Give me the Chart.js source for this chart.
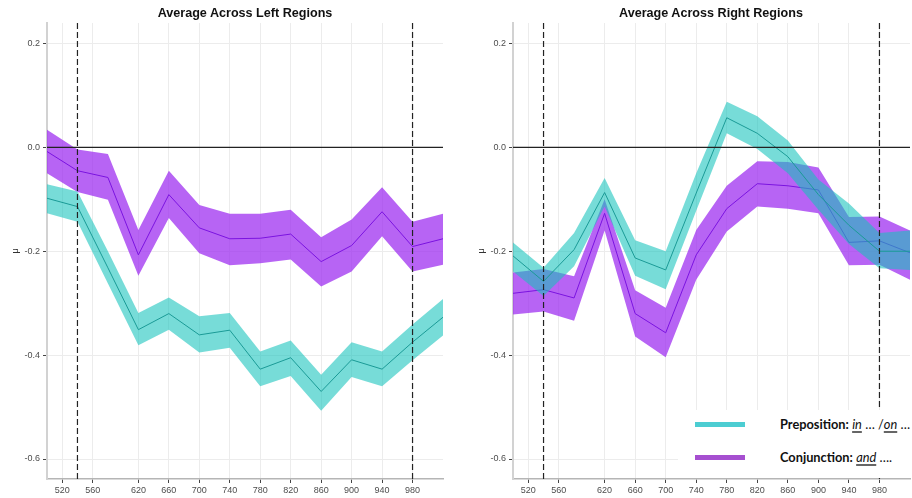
<!DOCTYPE html>
<html>
<head>
<meta charset="utf-8">
<script src="https://cdn.jsdelivr.net/npm/chart.js@4.4.1/dist/chart.umd.min.js"></script>
<style>
  html, body { margin:0; padding:0; background:#fff; }
  body { width:912px; height:498px; position:relative; overflow:hidden; font-family:"Liberation Sans", Arial, sans-serif; }
  .cw { position:absolute; top:0; height:498px; }
  .title { position:absolute; top:6px; font-weight:bold; font-size:12.6px; color:#111; text-align:center; white-space:nowrap; }
  #legend { position:absolute; left:678px; top:410px; width:234px; height:68px; background:#fff; }
  .lgline { position:absolute; left:17px; width:50px; height:5px; }
  .lgtext { position:absolute; left:102px; font-family:Lato, "Open Sans", sans-serif; font-size:12.8px; color:#111; white-space:nowrap; line-height:16px; }
  .lgtext b { font-weight:bold; }
  .lgtext i { font-style:italic; }
  .lgtext u { text-decoration:underline; text-decoration-color:#666; text-decoration-thickness:1.5px; text-underline-offset:2px; }
</style>
</head>
<body>
<div class="cw" style="left:0;width:456px;"><canvas id="leftChart" width="456" height="498"></canvas></div>
<div class="cw" style="left:466px;width:446px;"><canvas id="rightChart" width="446" height="498"></canvas></div>
<div class="title" style="left:95px;width:300px;">Average Across Left Regions</div>
<div class="title" style="left:561px;width:300px;">Average Across Right Regions</div>
<div id="legend">
  <div class="lgline" style="top:12px;background:#4ccdd2;"></div>
  <div class="lgline" style="top:45px;background:#a64fd0;"></div>
  <div class="lgtext" style="top:6px;"><b>Preposition:</b> <i><u>in</u></i> … /<i><u>on</u></i> …</div>
  <div class="lgtext" style="top:39px;"><b>Conjunction:</b> <i><u>and</u></i> ….</div>
</div>
<script>
// ---- data ----
const timePoints = [500, 540, 580, 620, 660, 700, 740, 780, 820, 860, 900, 940, 980, 1020];
const xTickValues = [520, 560, 620, 660, 700, 740, 780, 820, 860, 900, 940, 980];
const yTickValues = [0.2, 0.0, -0.2, -0.4, -0.6];
const markerTimes = [540, 980];
const zeroLevel = 0;

const leftPrepMean  = [-0.098, -0.114, -0.232, -0.351, -0.320, -0.361, -0.352, -0.427, -0.405, -0.470, -0.409, -0.427, -0.375, -0.327];
const leftPrepUpper = [-0.071, -0.085, -0.200, -0.319, -0.289, -0.325, -0.319, -0.393, -0.372, -0.438, -0.375, -0.393, -0.341, -0.292];
const leftPrepLower = [-0.127, -0.143, -0.262, -0.381, -0.351, -0.395, -0.386, -0.460, -0.440, -0.507, -0.442, -0.460, -0.410, -0.362];

const leftConjMean  = [-0.008, -0.045, -0.058, -0.207, -0.091, -0.155, -0.176, -0.175, -0.167, -0.220, -0.189, -0.124, -0.191, -0.176];
const leftConjUpper = [ 0.034, -0.004, -0.013, -0.159, -0.045, -0.111, -0.128, -0.128, -0.120, -0.173, -0.139, -0.077, -0.143, -0.128];
const leftConjLower = [-0.050, -0.086, -0.101, -0.247, -0.136, -0.204, -0.227, -0.223, -0.216, -0.268, -0.239, -0.171, -0.239, -0.226];

const rightPrepMean  = [-0.209, -0.258, -0.197, -0.087, -0.213, -0.236, -0.088, 0.057, 0.027, -0.018, -0.091, -0.150, -0.200, -0.200];
const rightPrepUpper = [-0.183, -0.232, -0.165, -0.059, -0.179, -0.200, -0.050, 0.088, 0.060, 0.013, -0.062, -0.108, -0.165, -0.160];
const rightPrepLower = [-0.239, -0.286, -0.229, -0.114, -0.247, -0.273, -0.122, 0.027, -0.003, -0.050, -0.120, -0.186, -0.233, -0.236];

const rightConjMean  = [-0.281, -0.274, -0.290, -0.127, -0.320, -0.357, -0.207, -0.118, -0.070, -0.074, -0.082, -0.183, -0.180, -0.203];
const rightConjUpper = [-0.241, -0.234, -0.248, -0.100, -0.275, -0.309, -0.159, -0.074, -0.027, -0.028, -0.039, -0.134, -0.133, -0.160];
const rightConjLower = [-0.322, -0.316, -0.334, -0.160, -0.364, -0.404, -0.255, -0.162, -0.114, -0.118, -0.127, -0.227, -0.226, -0.255];

// ---- styles ----
const prepBand = 'rgba(20,195,188,0.58)';
const prepLine = '#1a9a96';
const conjBand = 'rgba(155,40,240,0.72)';
const conjLine = '#7a12e0';

const pts = arr => arr.map((v, i) => ({ x: timePoints[i], y: v }));

function makeDatasets(pm, pu, pl, cm, cu, cl) {
  const base = { pointRadius: 0, tension: 0 };
  return [
    Object.assign({ label: 'prepMean', data: pts(pm), borderColor: prepLine, borderWidth: 1, fill: false }, base),
    Object.assign({ label: 'prepUpper', data: pts(pu), borderWidth: 0, borderColor: 'rgba(0,0,0,0)', backgroundColor: prepBand, fill: '+1' }, base),
    Object.assign({ label: 'prepLower', data: pts(pl), borderWidth: 0, borderColor: 'rgba(0,0,0,0)', fill: false }, base),
    Object.assign({ label: 'conjMean', data: pts(cm), borderColor: conjLine, borderWidth: 1, fill: false }, base),
    Object.assign({ label: 'conjUpper', data: pts(cu), borderWidth: 0, borderColor: 'rgba(0,0,0,0)', backgroundColor: conjBand, fill: '+1' }, base),
    Object.assign({ label: 'conjLower', data: pts(cl), borderWidth: 0, borderColor: 'rgba(0,0,0,0)', fill: false }, base)
  ];
}

const refLines = {
  id: 'refLines',
  afterDatasetsDraw(chart) {
    const { ctx, chartArea: a, scales: { x, y } } = chart;
    ctx.save();
    ctx.beginPath();
    ctx.rect(a.left, a.top, a.right - a.left, a.bottom - a.top);
    ctx.clip();
    const yz = y.getPixelForValue(zeroLevel);
    ctx.strokeStyle = '#222';
    ctx.lineWidth = 1.3;
    ctx.beginPath(); ctx.moveTo(a.left, yz); ctx.lineTo(a.right, yz); ctx.stroke();
    ctx.setLineDash([6, 3]);
    ctx.lineWidth = 1.2;
    markerTimes.forEach(t => {
      const xp = x.getPixelForValue(t);
      ctx.beginPath(); ctx.moveTo(xp, a.top); ctx.lineTo(xp, a.bottom); ctx.stroke();
    });
    ctx.restore();
  }
};

function makeOptions(padRight) {
  const tickFont = { family: '"Liberation Sans", Arial, sans-serif', size: 9 };
  return {
    animation: false,
    responsive: false,
    events: [],
    layout: { padding: { left: 0, right: padRight, top: 23, bottom: 0 } },
    plugins: { legend: { display: false }, tooltip: { enabled: false }, title: { display: false } },
    scales: {
      x: {
        type: 'linear', min: 500, max: 1020,
        afterBuildTicks: s => { s.ticks = xTickValues.map(v => ({ value: v })); },
        afterFit: s => { s.height = 19; },
        ticks: { font: tickFont, color: '#4d4d4d', padding: 2, maxRotation: 0, autoSkip: false, callback: v => String(v) },
        grid: { color: '#ececec', lineWidth: 1, tickColor: '#444', tickLength: 4, drawTicks: true },
        border: { display: true, color: '#b5b5b5', width: 1.5 }
      },
      y: {
        type: 'linear', min: -0.6385, max: 0.2394,
        afterBuildTicks: s => { s.ticks = yTickValues.map(v => ({ value: v })); },
        afterFit: s => { s.width = 47; },
        ticks: { font: tickFont, color: '#4d4d4d', padding: 3, callback: v => v.toFixed(1) },
        grid: { color: '#ececec', lineWidth: 1, tickColor: '#444', tickLength: 4, drawTicks: true },
        border: { display: true, color: '#d2d2d2', width: 2 },
        title: { display: true, text: 'μ', font: { family: '"Liberation Sans", Arial, sans-serif', size: 9 }, color: '#333', padding: { top: 10, bottom: 0 } }
      }
    }
  };
}

new Chart(document.getElementById('leftChart'), {
  type: 'line',
  data: { datasets: makeDatasets(leftPrepMean, leftPrepUpper, leftPrepLower, leftConjMean, leftConjUpper, leftConjLower) },
  options: makeOptions(13),
  plugins: [refLines]
});

new Chart(document.getElementById('rightChart'), {
  type: 'line',
  data: { datasets: makeDatasets(rightPrepMean, rightPrepUpper, rightPrepLower, rightConjMean, rightConjUpper, rightConjLower) },
  options: makeOptions(2),
  plugins: [refLines]
});
</script>
</body>
</html>
